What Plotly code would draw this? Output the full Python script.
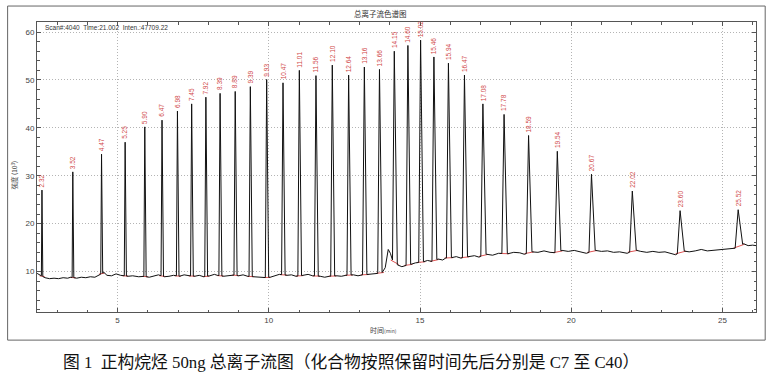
import numpy as np
import plotly.graph_objects as go

# ---------------- data ----------------
peak_labels = ["2.32", "3.52", "4.47", "5.25", "5.90", "6.47", "6.98", "7.45", "7.92", "8.39",
               "8.89", "9.39", "9.93", "10.47", "11.01", "11.56", "12.10", "12.64", "13.16", "13.66",
               "14.15", "14.60", "15.02", "15.46", "15.94", "16.47", "17.08", "17.78", "18.59", "19.54",
               "20.67", "22.02", "23.60", "25.52"]
peak_times = [2.50, 3.52, 4.47, 5.25, 5.90, 6.47, 6.98, 7.45, 7.92, 8.39,
              8.89, 9.39, 9.93, 10.47, 11.01, 11.56, 12.10, 12.64, 13.16, 13.66,
              14.15, 14.60, 15.02, 15.46, 15.94, 16.47, 17.08, 17.78, 18.59, 19.54,
              20.67, 22.02, 23.60, 25.52]
peak_heights = [27.0, 30.8, 34.5, 37.0, 40.2, 41.6, 43.5, 45.0, 46.4, 47.2,
                47.6, 48.6, 50.1, 49.4, 52.0, 50.9, 53.1, 51.0, 52.7, 52.2,
                56.0, 57.2, 58.3, 54.8, 53.5, 51.0, 45.0, 42.8, 38.4, 35.1,
                30.3, 26.8, 22.7, 22.9]

base_t = [2.34, 2.42, 2.60, 2.75, 2.90, 3.05, 3.20, 3.35, 3.45, 3.65, 3.80, 3.95, 4.10, 4.25, 4.40,
          4.55, 4.65, 4.80, 4.95, 5.10, 5.35, 5.50, 5.70, 5.85, 6.05, 6.20, 6.35, 6.55, 6.70, 6.85,
          7.05, 7.20, 7.35, 7.55, 7.70, 7.85, 8.05, 8.20, 8.30, 8.50, 8.65, 8.80, 9.00, 9.15, 9.30,
          9.50, 9.65, 9.80, 10.05, 10.20, 10.35, 10.60, 10.75, 10.90, 11.15, 11.30, 11.45, 11.70,
          11.85, 12.00, 12.25, 12.40, 12.55, 12.80, 12.95, 13.10, 13.30, 13.45, 13.60, 13.75, 13.85,
          13.95, 14.02, 14.10, 14.25, 14.40, 14.50, 14.70, 14.85, 15.10, 15.25, 15.40, 15.60, 15.75,
          15.85, 16.05, 16.20, 16.35, 16.60, 16.80, 16.95, 17.20, 17.40, 17.60, 17.90, 18.10, 18.30,
          18.45, 18.70, 18.90, 19.10, 19.30, 19.45, 19.70, 19.90, 20.10, 20.30, 20.50, 20.80, 21.00,
          21.20, 21.40, 21.60, 21.85, 22.10, 22.30, 22.50, 22.70, 22.90, 23.10, 23.30, 23.45, 23.70,
          23.90, 24.10, 24.30, 24.50, 24.70, 24.90, 25.10, 25.30, 25.45, 25.70, 25.85, 26.00, 26.11]
base_v = [9.6, 9.3, 8.7, 8.5, 8.6, 8.5, 8.7, 8.6, 8.8, 8.6, 8.8, 8.7, 8.9, 8.8, 9.3,
          9.8, 9.2, 9.1, 9.5, 9.2, 9.0, 9.1, 8.9, 9.0, 8.8, 9.1, 9.3, 8.9, 9.0, 9.2,
          9.0, 9.3, 9.1, 9.0, 9.2, 8.9, 9.1, 9.4, 9.2, 9.0, 9.1, 9.3, 9.1, 9.3, 9.0,
          8.9, 8.8, 8.7, 8.8, 9.1, 9.4, 9.2, 9.3, 9.0, 9.2, 9.4, 9.1, 9.0,
          8.8, 9.0, 9.1, 9.0, 9.2, 9.3, 9.1, 9.3, 9.4, 9.5, 9.6, 9.8, 10.8,
          14.6, 13.8, 12.2, 11.4, 11.0, 11.2, 11.5, 11.8, 12.0, 12.3, 12.1, 12.6, 12.4,
          12.8, 12.9, 13.1, 12.8, 13.1, 13.3, 13.0, 13.6, 13.4, 13.8, 13.7, 14.0, 13.9,
          13.6, 14.1, 14.0, 14.3, 14.0, 13.9, 14.4, 14.2, 14.4, 14.1, 13.8, 14.4, 14.2,
          14.3, 14.0, 14.1, 13.8, 14.5, 14.2, 14.0, 14.2, 14.0, 14.1, 13.8, 13.5, 14.3,
          14.1, 14.3, 14.6, 14.3, 14.4, 14.5, 14.6, 14.7, 14.9, 15.8, 15.4, 15.5, 15.4]

x_ticks = [5, 10, 15, 20, 25]
y_ticks = [10, 20, 30, 40, 50, 60]

# ---------------- build the chromatogram line ----------------
bt = np.array(base_t)
bv = np.array(base_v)
pts = []
keep = np.ones(len(bt), dtype=bool)
red_x, red_y = [], []
for t, h in zip(peak_times, peak_heights):
    wl = 0.018 + 0.0035 * (t - 2.3)
    wr = 1.5 * wl
    keep &= ~((bt > t - wl) & (bt < t + wr))
    b0 = float(np.interp(t - wl, bt, bv))
    b1 = float(np.interp(t + wr, bt, bv))
    pts += [(t - wl, b0), (t, h), (t + wr, b1)]
    red_x += [t - wl - 0.06, t + wr + 0.06, None]
    red_y += [b0, b1, None]
pts += list(zip(bt[keep].tolist(), bv[keep].tolist()))
pts.sort(key=lambda p: p[0])
line_x = [p[0] for p in pts]
line_y = [p[1] for p in pts]

fig = go.Figure()
fig.add_trace(go.Scatter(x=red_x, y=red_y, mode="lines",
                         line=dict(color="#e05555", width=1), hoverinfo="skip"))
fig.add_trace(go.Scatter(x=line_x, y=line_y, mode="lines",
                         line=dict(color="#111111", width=1), hoverinfo="skip"))

annotations = []
for lab, t, h in zip(peak_labels, peak_times, peak_heights):
    annotations.append(dict(x=t, y=h, xref="x", yref="y", text=lab, showarrow=False,
                            textangle=-90, xanchor="center", yanchor="bottom", yshift=1,
                            font=dict(family="Liberation Sans", size=6.5, color="#d04848")))

# plot area in pixels: x 36.7..756.3, y 21.5..312.3
L, R, T, B = 36.7, 756.3, 21.5, 312.3
def px(x):
    return (x - L) / (R - L)
def py(y):
    return (B - y) / (B - T)

annotations += [
    dict(x=px(380), y=py(13), xref="paper", yref="paper", text="总离子流色谱图", showarrow=False,
         xanchor="center", yanchor="middle",
         font=dict(family="Noto Sans CJK SC", size=7.5, color="#333333")),
    dict(x=px(42.5), y=py(27), xref="paper", yref="paper",
         text="Scan#:4040  Time:21.002  Inten.:47709.22", showarrow=False,
         xanchor="left", yanchor="middle",
         font=dict(family="Liberation Sans", size=6.5, color="#333333")),
    dict(x=px(14), y=py(175), xref="paper", yref="paper", text="强度 (10<sup>3</sup>)",
         showarrow=False, textangle=-90, xanchor="center", yanchor="middle",
         font=dict(family="Noto Sans CJK SC", size=6.5, color="#444444")),
    dict(x=px(383), y=py(330), xref="paper", yref="paper",
         text="时间<span style='font-size:5px'>(min)</span>", showarrow=False,
         xanchor="center", yanchor="middle",
         font=dict(family="Noto Sans CJK SC", size=7, color="#444444")),
    dict(x=px(351), y=py(363), xref="paper", yref="paper",
         text="图 1  正构烷烃 50ng 总离子流图（化合物按照保留时间先后分别是 C7 至 C40）",
         showarrow=False, xanchor="center", yanchor="middle",
         font=dict(family="Liberation Serif, Noto Sans CJK SC", size=16.8, color="#111111")),
]

shapes = [dict(type="rect", xref="paper", yref="paper",
               x0=px(7.3), x1=px(765.5), y0=py(340.5), y1=py(5.5),
               line=dict(color="#666666", width=1), fillcolor="rgba(0,0,0,0)", layer="below")]

axis_common = dict(ticks="inside", ticklen=4, tickcolor="#555555", showline=True,
                   linecolor="#555555", linewidth=1, mirror="ticks", showgrid=True,
                   gridcolor="#b4b4b4", griddash="1px,2px", gridwidth=1, zeroline=False,
                   tickfont=dict(family="Liberation Sans", size=8, color="#444444"))

fig.update_layout(
    width=767, height=376,
    margin=dict(l=L, r=767 - R, t=T, b=376 - B, pad=0),
    paper_bgcolor="white", plot_bgcolor="white",
    showlegend=False,
    annotations=annotations,
    shapes=shapes,
    xaxis=dict(range=[2.336, 26.11], tickvals=x_ticks,
               minor=dict(dtick=1, tick0=0, ticks="inside", ticklen=2.5, tickcolor="#555555",
                          showgrid=False), **axis_common),
    yaxis=dict(range=[1.54, 62.1], tickvals=y_ticks,
               minor=dict(dtick=2, tick0=0, ticks="inside", ticklen=2.5, tickcolor="#555555",
                          showgrid=False), **axis_common),
)

fig.write_html("out.html", config={"displayModeBar": False},
               post_script="document.body.style.margin='0';")
